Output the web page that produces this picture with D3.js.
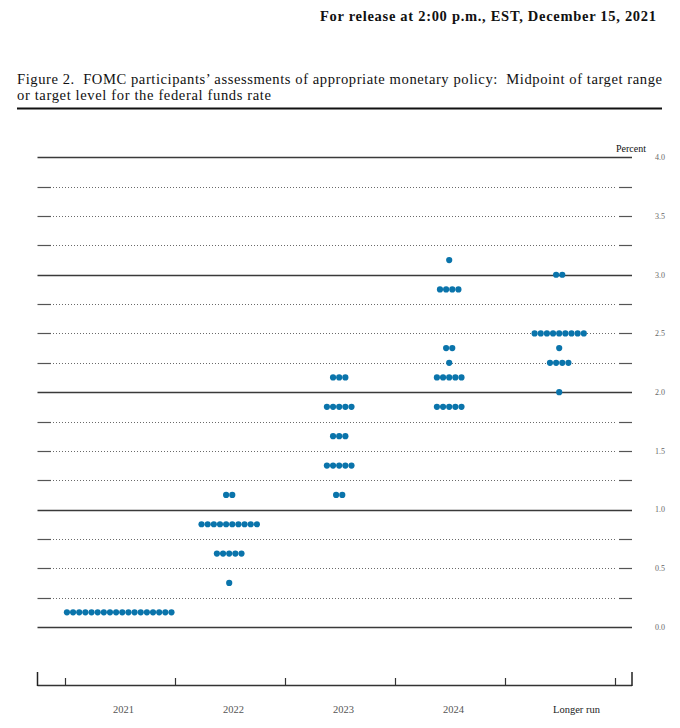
<!DOCTYPE html>
<html>
<head>
<meta charset="utf-8">
<script src="https://cdn.jsdelivr.net/npm/d3@7"></script>
<style>
  html, body { margin: 0; padding: 0; background: #fff; }
  svg { display: block; }
</style>
</head>
<body>
<script>
// ---------------- DATA ----------------
const categories = ["2021", "2022", "2023", "2024", "Longer run"];

// Each entry: a midpoint rate and the number of participants at that rate
const dots2021 = [{ rate: 0.125, count: 18 }];
const dots2022 = [
  { rate: 1.125, count: 2 },
  { rate: 0.875, count: 10 },
  { rate: 0.625, count: 5 },
  { rate: 0.375, count: 1 }
];
const dots2023 = [
  { rate: 2.125, count: 3 },
  { rate: 1.875, count: 5 },
  { rate: 1.625, count: 3 },
  { rate: 1.375, count: 5 },
  { rate: 1.125, count: 2 }
];
const dots2024 = [
  { rate: 3.125, count: 1 },
  { rate: 2.875, count: 4 },
  { rate: 2.375, count: 2 },
  { rate: 2.25, count: 1 },
  { rate: 2.125, count: 5 },
  { rate: 1.875, count: 5 }
];
const dotsLongerRun = [
  { rate: 3.0, count: 2 },
  { rate: 2.5, count: 9 },
  { rate: 2.375, count: 1 },
  { rate: 2.25, count: 4 },
  { rate: 2.0, count: 1 }
];
const seriesByCategory = [dots2021, dots2022, dots2023, dots2024, dotsLongerRun];

const yTickValues = [0, 0.5, 1.0, 1.5, 2.0, 2.5, 3.0, 3.5, 4.0];
const yTickLabels = ["0.0", "0.5", "1.0", "1.5", "2.0", "2.5", "3.0", "3.5", "4.0"];
const gridStep = 0.25;

const headerText = "For release at 2:00 p.m., EST, December 15, 2021";
const titleLine1 = "Figure 2.  FOMC participants\u2019 assessments of appropriate monetary policy:  Midpoint of target range";
const titleLine2 = "or target level for the federal funds rate";
const unitLabel = "Percent";

// ---------------- LAYOUT ----------------
const W = 680, H = 728;
const plotLeft = 37.5, plotRight = 632;
const innerLeft = 65, innerRight = 615;
const dotColor = "#0a74ab";
const dotR = 3.1, dotGap = 6.15;
const serif = "'Liberation Serif', 'DejaVu Serif', serif";

const svg = d3.select("body").append("svg")
  .attr("width", W).attr("height", H);

// Header
svg.append("text")
  .attr("x", 320).attr("y", 21)
  .attr("font-family", serif).attr("font-weight", "bold")
  .attr("font-size", 14.5).attr("fill", "#111")
  .attr("textLength", 336).attr("lengthAdjust", "spacing")
  .text(headerText);

// Title
svg.append("text")
  .attr("x", 17).attr("y", 84)
  .attr("font-family", serif).attr("font-size", 14.6).attr("fill", "#111")
  .attr("textLength", 645).attr("lengthAdjust", "spacing")
  .style("white-space", "pre")
  .text(titleLine1);
svg.append("text")
  .attr("x", 17).attr("y", 99.5)
  .attr("font-family", serif).attr("font-size", 14.6).attr("fill", "#111")
  .attr("textLength", 254).attr("lengthAdjust", "spacing")
  .text(titleLine2);
svg.append("line")
  .attr("x1", 17).attr("x2", 662).attr("y1", 108.5).attr("y2", 108.5)
  .attr("stroke", "#111").attr("stroke-width", 2);

// Scales
const y = d3.scaleLinear().domain([0, 4]).range([627, 157.3]);
const x = d3.scaleBand().domain(categories).range([innerLeft, innerRight]).paddingInner(0).paddingOuter(0);

// Grid lines
const gridLevels = d3.range(0, 4 + 1e-9, gridStep);
const grid = svg.append("g");
gridLevels.forEach(v => {
  const yy = Math.round(y(v)) + 0.5;
  const whole = Math.abs(v - Math.round(v)) < 1e-9;
  if (whole) {
    grid.append("line")
      .attr("x1", plotLeft).attr("x2", plotRight).attr("y1", yy).attr("y2", yy)
      .attr("stroke", "#3a3a3a").attr("stroke-width", 1.5);
  } else {
    grid.append("line")
      .attr("x1", 53).attr("x2", 617).attr("y1", yy).attr("y2", yy)
      .attr("stroke", "#6a6a6a").attr("stroke-width", 1)
      .attr("stroke-dasharray", "1,2");
    grid.append("line")
      .attr("x1", plotLeft).attr("x2", 51).attr("y1", yy).attr("y2", yy)
      .attr("stroke", "#555").attr("stroke-width", 1.2);
    grid.append("line")
      .attr("x1", 619).attr("x2", plotRight).attr("y1", yy).attr("y2", yy)
      .attr("stroke", "#555").attr("stroke-width", 1.2);
  }
});

// Y tick labels (right side)
svg.append("g").selectAll("text")
  .data(yTickValues)
  .join("text")
  .attr("x", 655).attr("y", d => y(d) + 2.8)
  .attr("font-family", serif).attr("font-size", 8).attr("fill", "#666")
  .text((d, i) => yTickLabels[i]);

svg.append("text")
  .attr("x", 616).attr("y", 151.5)
  .attr("font-family", serif).attr("font-size", 10).attr("fill", "#111")
  .text(unitLabel);

// Dots
const dots = [];
seriesByCategory.forEach((series, ci) => {
  const cat = categories[ci];
  series.forEach(s => {
    for (let i = 0; i < s.count; i++) {
      dots.push({ cat, rate: s.rate, offset: i - (s.count - 1) / 2 });
    }
  });
});
svg.append("g").selectAll("circle")
  .data(dots)
  .join("circle")
  .attr("cx", d => x(d.cat) + x.bandwidth() / 2 - 0.8 + d.offset * dotGap)
  .attr("cy", d => y(d.rate))
  .attr("r", dotR)
  .attr("fill", dotColor);

// Bottom axis
const axisY = 685.5;
const ax = svg.append("g");
ax.append("line")
  .attr("x1", plotLeft).attr("x2", plotRight).attr("y1", axisY).attr("y2", axisY)
  .attr("stroke", "#333").attr("stroke-width", 1.3);
const edges = categories.map(c => x(c)).concat([x(categories[categories.length - 1]) + x.bandwidth()]);
ax.selectAll("line.tick")
  .data(edges)
  .join("line")
  .attr("class", "tick")
  .attr("x1", d => Math.round(d) + 0.5).attr("x2", d => Math.round(d) + 0.5)
  .attr("y1", axisY).attr("y2", axisY - 7.5)
  .attr("stroke", "#333").attr("stroke-width", 1.2);
[plotLeft, plotRight].forEach(px => {
  ax.append("line")
    .attr("x1", px).attr("x2", px).attr("y1", axisY + 0.5).attr("y2", axisY - 13.5)
    .attr("stroke", "#222").attr("stroke-width", 1.5);
});
ax.selectAll("text")
  .data(categories)
  .join("text")
  .attr("x", d => x(d) + 48)
  .attr("y", 713)
  .attr("font-family", serif).attr("font-size", 10.5)
  .attr("fill", d => d === "Longer run" ? "#222" : "#555")
  .text(d => d);
</script>
</body>
</html>
